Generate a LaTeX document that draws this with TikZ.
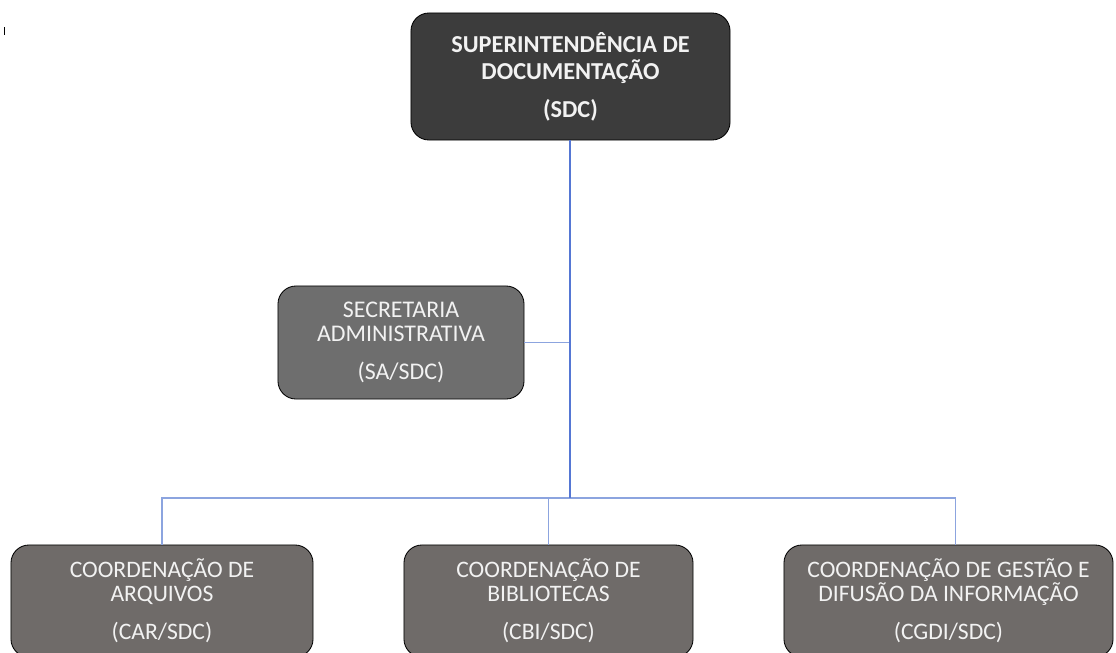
\documentclass[tikz,border=0pt]{standalone}
\usepackage{fontspec}
\setmainfont{Carlito}
\usepackage{tikz}
\usetikzlibrary{positioning}

\definecolor{topfill}{HTML}{3C3C3C}
\definecolor{safill}{HTML}{6E6E6E}
\definecolor{coordfill}{HTML}{6F6B69}
\definecolor{trunkblue}{HTML}{5577D4}
\definecolor{branchblue}{HTML}{8CA4DF}

\begin{document}
\begin{tikzpicture}[x=0.025cm,y=-0.025cm,
  unit/.style={draw=black,line width=0.6pt,rounded corners=0.45cm,align=center,
    text=white!95!black,inner sep=0pt},
  chief/.style={unit,fill=topfill,font=\bfseries\fontsize{17.3}{19.2}\selectfont,
    minimum width=7.975cm,minimum height=3.175cm},
  staff/.style={unit,fill=safill,font=\fontsize{17}{17}\selectfont,
    minimum width=6.15cm,minimum height=2.825cm},
  coord/.style={unit,fill=coordfill,font=\fontsize{16.8}{17}\selectfont,
    minimum height=2.8cm},
  trunk/.style={trunkblue,line width=1.5pt},
  branch/.style={branchblue,line width=0.8pt}]
\useasboundingbox (0,0) rectangle (1116,652);
\clip (0,0) rectangle (1116,652);
% stray mark
\draw [black,line width=0.8pt] (4.5,27) -- (4.5,35);
% units
\node [chief] (sdc) at (570.5,76.5) {SUPERINTEND\^ENCIA DE\\DOCUMENTA\c{C}\~AO\\[8pt](SDC)};
\node [staff] (sa) at (401,342.5) {SECRETARIA\\ADMINISTRATIVA\\[10pt](SA/SDC)};
\node [coord,minimum width=7.55cm] (car) at (162,601) {COORDENA\c{C}\~AO DE\\ARQUIVOS\\[10pt](CAR/SDC)};
\node [coord,minimum width=7.225cm] (cbi) at (548.5,601) {COORDENA\c{C}\~AO DE\\BIBLIOTECAS\\[10pt](CBI/SDC)};
\node [coord,minimum width=8.225cm] (cgdi) at (948.5,601) {COORDENA\c{C}\~AO DE GEST\~AO E\\DIFUS\~AO DA INFORMA\c{C}\~AO\\[10pt](CGDI/SDC)};
% connectors
\coordinate (bus) at (570,498);
\draw [branch] (sa.east) -- (sa.east -| bus);
\draw [branch] (car.north) |- (bus);
\draw [branch] (cbi.north) |- (bus);
\draw [branch] ([xshift=0.165cm]cgdi.north) |- (bus);
\draw [trunk] (sdc.south -| bus) -- (bus);
\end{tikzpicture}
\end{document}
